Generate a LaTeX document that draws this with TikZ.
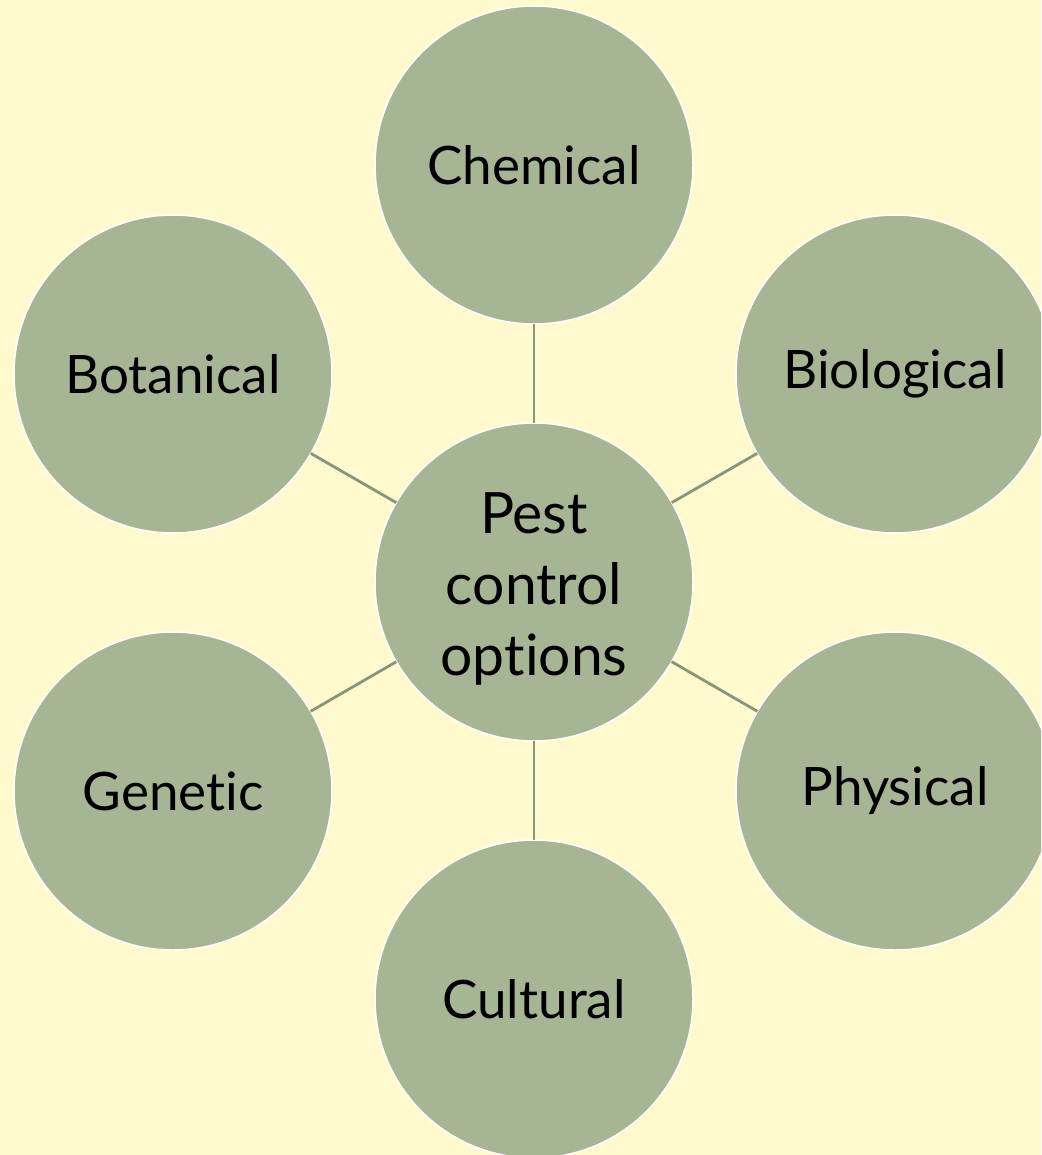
\documentclass[tikz,border=0pt]{standalone}
\usepackage{fontspec}
\setmainfont[Ligatures={NoCommon,NoRare,NoDiscretionary}]{Lato}
\definecolor{bg}{RGB}{255,250,205}
\definecolor{disc}{RGB}{166,181,148}
\definecolor{link}{RGB}{134,150,118}
\begin{document}
\begin{tikzpicture}[x=1pt,y=-1pt,
  disk/.style={circle,fill=disc,draw=white,line width=1.5pt,minimum size=318pt,inner sep=0pt,outer sep=0pt,
    font=\fontsize{53}{71}\selectfont,align=center,text=black},
  hubtext/.style={font=\fontsize{57}{71}\selectfont,align=center,text=black,inner sep=0pt},
  linkline/.style={draw=link,line width=2.8pt}]
\useasboundingbox (0,0) rectangle (1041,1155);
\clip (0,0) rectangle (1041,1155);
\fill[bg] (0,0) rectangle (1041,1155);
\node[disk] (hub) at (534,582) {};
\node[hubtext] (hubl) at (534,589) {Pest\\control\\options};
\node[disk] (chem) at (534,165) {Chemical};
\node[disk] (bota) at (173,374) {Botanical};
\node[disk] (biol) at (895,374) {Biological};
\node[disk] (gene) at (173,791) {Genetic};
\node[disk] (phys) at (895,791) {Physical};
\node[disk] (cult) at (534,999) {Cultural};
\draw[linkline] (hub) -- (chem);
\draw[linkline] (hub) -- (bota);
\draw[linkline] (hub) -- (biol);
\draw[linkline] (hub) -- (gene);
\draw[linkline] (hub) -- (phys);
\draw[linkline] (hub) -- (cult);
\end{tikzpicture}
\end{document}
